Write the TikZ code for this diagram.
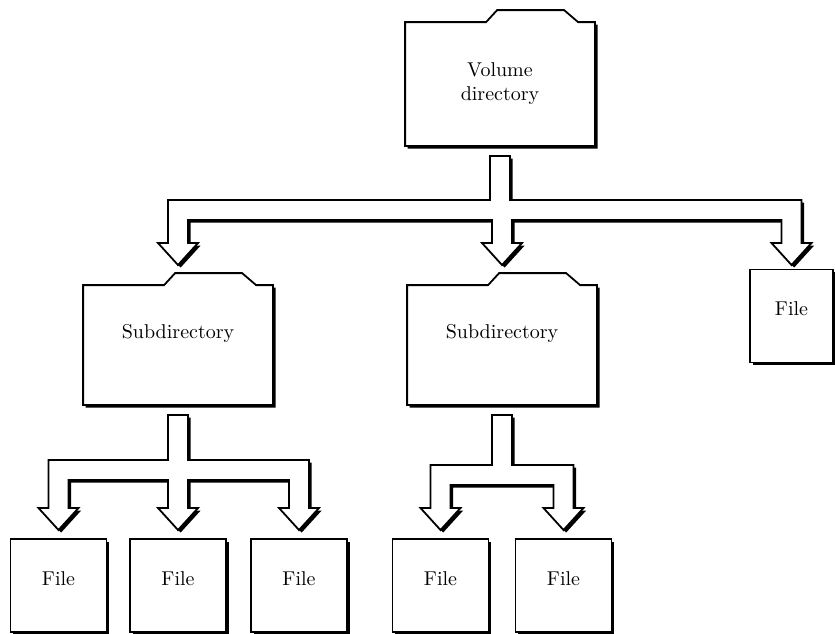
\documentclass[tikz,border=0pt]{standalone}
\usetikzlibrary{calc}
\usetikzlibrary{shadows}
\usetikzlibrary{backgrounds}

\begin{document}
\begin{tikzpicture}[x=0.5pt, y=-0.5pt, line width=0.9pt,
        shade/.style={drop shadow={fill=black,opacity=1,shadow xshift=1.3pt,shadow yshift=-1.3pt}},
        fork/.style={draw=black,line width=0.9pt,fill=white,shade},
        folder/.style={minimum width=94pt,minimum height=59pt,inner sep=0pt,align=center},
        filebox/.style={draw=black,line width=0.9pt,fill=white,shade,minimum width=48pt,
          minimum height=46.5pt,inner sep=0pt,text depth=7pt}]
      \def\sw{10}   % half width of an arrow shaft
      \def\hw{20}   % half width of an arrow head
      \def\hl{22}   % length of an arrow head
      \def\gap{10}  % space between a folder and its shaft
      \def\tabh{12} % height of a folder tab
      \useasboundingbox (0,0) rectangle (835,633);
      \newcommand{\folderline}[1]{%
        \draw[fork] (#1.south west) -- (#1.north west)
          -- ($(#1.north west)+(81,0)$) -- ($(#1.north west)+(92,-\tabh)$)
          -- ($(#1.north west)+(159,-\tabh)$) -- ($(#1.north west)+(173,0)$)
          -- (#1.north east) -- (#1.south east) -- cycle;
      }
      \newcommand{\forkarrow}[6]{% parent, children, first, last, bar y, tip y
        \coordinate (bt) at (0,#5);
        \coordinate (bb) at (0,{#5+2*\sw});
        \coordinate (hd) at (0,{#6-\hl});
        \coordinate (tp) at (0,#6);
        \draw[fork] ($(#1.south)+(-\sw,\gap)$) -- ($(#1.south |- bt)+(-\sw,0)$)
          -- ($(#3.north |- bt)+(-\sw,0)$)
          foreach \c in {#2}{
            -- ($(\c.north |- bb)+(-\sw,0)$) -- ($(\c.north |- hd)+(-\sw,0)$)
            -- ($(\c.north |- hd)+(-\hw,0)$) -- (\c.north |- tp)
            -- ($(\c.north |- hd)+(\hw,0)$) -- ($(\c.north |- hd)+(\sw,0)$)
            -- ($(\c.north |- bb)+(\sw,0)$)}
          -- ($(#4.north |- bt)+(\sw,0)$) -- ($(#1.south |- bt)+(\sw,0)$)
          -- ($(#1.south)+(\sw,\gap)$) -- cycle;
      }
      % folders
      \node[folder,minimum height=61pt] (vol) at (500,84) {Volume\\directory};
      \node[folder,text depth=14pt] (sub1) at (178,345) {Subdirectory};
      \node[folder,text depth=14pt] (sub2) at (502,345) {Subdirectory};
      \begin{scope}[on background layer]
        \foreach \n in {vol,sub1,sub2}{\folderline{\n}}
      \end{scope}
      % files
      \node[filebox,minimum width=41.5pt] (file0) at (791.5,316) {File};
      \node[filebox] (file1) at (58.5,585.5) {File};
      \node[filebox] (file2) at (178,585.5) {File};
      \node[filebox] (file3) at (299,585.5) {File};
      \node[filebox] (file4) at (440.5,585.5) {File};
      \node[filebox] (file5) at (563.5,585.5) {File};
      % block arrows
      \forkarrow{vol}{sub1,sub2,file0}{sub1}{file0}{200}{265}
      \forkarrow{sub1}{file1,file2,file3}{file1}{file3}{460}{530}
      \forkarrow{sub2}{file4,file5}{file4}{file5}{465}{530}
    \end{tikzpicture}
\end{document}
